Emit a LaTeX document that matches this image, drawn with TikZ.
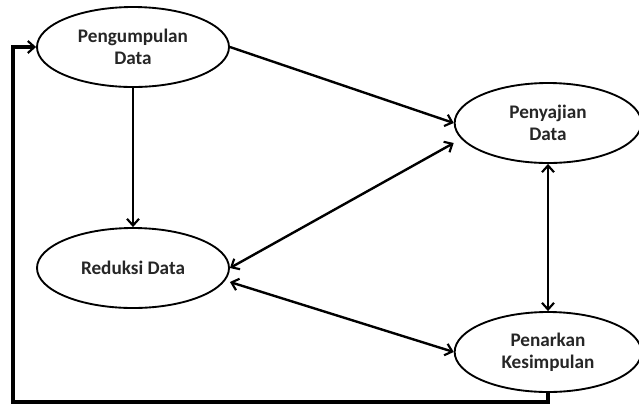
\documentclass[tikz,border=0pt]{standalone}
\usepackage{fontspec}
\setmainfont{Carlito}
\usepackage{tikz}
\usetikzlibrary{shapes.geometric,arrows.meta}

\tikzset{
	tahap/.style={ellipse,draw,line width=1.4pt,minimum width=144pt,minimum height=60pt,align=center,inner sep=0pt,font=\fontsize{14.4}{16.5}\selectfont\bfseries,text=black!85},
	alur/.style={line width=1.8pt,-{Straight Barb[length=5pt,width=9pt,line width=1.6pt]}},
	dua/.style={line width=1.8pt,{Straight Barb[length=5pt,width=9pt,line width=1.6pt]}-{Straight Barb[length=5pt,width=9pt,line width=1.6pt]}}
}

\begin{document}
\begin{tikzpicture}[x=0.75pt,y=-0.75pt]
	\useasboundingbox (0,0) rectangle (639,405);
	
	\node[tahap] (kumpul) at (133,47) {Pengumpulan\\Data};
	\node[tahap,minimum width=140pt] (saji) at (548,123) {Penyajian\\Data};
	\node[tahap] (reduksi) at (133,268) {Reduksi Data};
	\node[tahap,minimum width=140pt] (tarik) at (548,352) {Penarkan\\Kesimpulan};
	
	\draw[alur] (kumpul.south) -- (reduksi.north);
	\draw[alur] (kumpul.east) -- (saji.west);
	\draw[dua] (reduksi.east) -- ([yshift=-15pt]saji.west);
	\draw[dua] (saji.south) -- (tarik.north);
	\draw[dua] ([yshift=-10.5pt]reduksi.east) -- (tarik.west);
	
	% umpan balik
	\coordinate (balik) at (13,402);
	\draw[line width=2.4pt,-{Straight Barb[length=5pt,width=9pt,line width=1.6pt]}] (tarik.south) |- (balik) |- (kumpul.west);
	
\end{tikzpicture}
\end{document}
